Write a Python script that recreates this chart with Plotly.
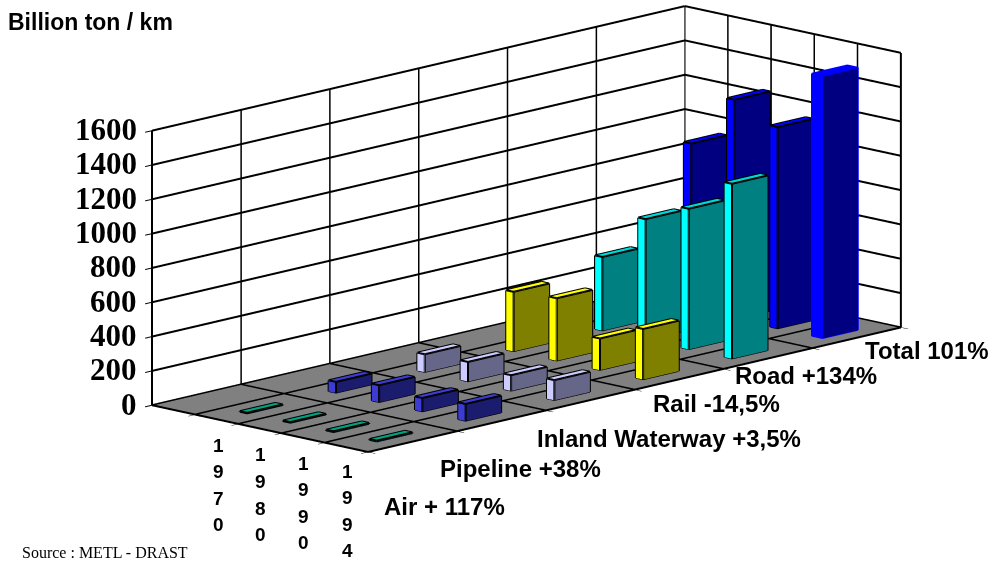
import math
import plotly.graph_objects as go

years = ["1970", "1980", "1990", "1994"]
series = ["Air", "Pipeline", "Inland Waterway", "Rail", "Road", "Total"]
air = [6, 6, 7, 7]
pipeline = [65, 100, 80, 100]
inland = [105, 115, 92, 118]
rail = [348, 365, 185, 295]
road = [430, 705, 820, 1020]
total = [970, 1280, 1175, 1530]
z_ticks = [0, 200, 400, 600, 800, 1000, 1200, 1400, 1600]
x_ticks = [0, 1, 2, 3, 4, 5]
y_ticks = [0, 1, 2, 3, 4, 5, 6]

values = [air, pipeline, inland, rail, road, total]
side_colors = ["#00a080", "#3c3cd2", "#ccccff", "#ffff00", "#00ffff", "#0000ff"]
front_colors = ["#008060", "#1c1c6e", "#666688", "#808000", "#008080", "#000080"]
top_colors = ["#00a080", "#3c3cd2", "#ccccff", "#ffff00", "#00d8d8", "#0000ff"]

BW = 0.17
BD = 0.2


def add_bar(mesh, edges, xc, yc, h, dx, dy, cs, cf, ct):
    x0, x1, y0, y1 = xc - dx, xc + dx, yc - dy, yc + dy
    base = len(mesh["x"])
    pts = [(x0, y0, 0), (x1, y0, 0), (x1, y1, 0), (x0, y1, 0),
           (x0, y0, h), (x1, y0, h), (x1, y1, h), (x0, y1, h)]
    for p in pts:
        mesh["x"].append(p[0]); mesh["y"].append(p[1]); mesh["z"].append(p[2])
    quads = [((0, 1, 5, 4), cs), ((1, 2, 6, 5), cf), ((4, 5, 6, 7), ct),
             ((2, 3, 7, 6), cf), ((3, 0, 4, 7), cs)]
    for (a, b, c, d), col in quads:
        for tri in ((a, b, c), (a, c, d)):
            mesh["i"].append(base + tri[0]); mesh["j"].append(base + tri[1]); mesh["k"].append(base + tri[2])
            mesh["c"].append(col)
    for a, b in [(0, 1), (1, 2), (4, 5), (5, 6), (6, 7), (7, 4), (0, 4), (1, 5), (2, 6), (3, 7), (2, 3), (3, 0)]:
        for v in (a, b):
            edges["x"].append(pts[v][0]); edges["y"].append(pts[v][1]); edges["z"].append(pts[v][2])
        edges["x"].append(None); edges["y"].append(None); edges["z"].append(None)


mesh = dict(x=[], y=[], z=[], i=[], j=[], k=[], c=[])
edges = dict(x=[], y=[], z=[])
edges_blue = dict(x=[], y=[], z=[])
for s, vals in enumerate(values):
    for t, v in enumerate(vals):
        hot = s == 5 and t == 3
        add_bar(mesh, edges_blue if hot else edges, t + 1.5, s + 0.5, v,
                0.125 if hot else BW / 2, BD,
                side_colors[s], front_colors[s], top_colors[s])

# wall and floor rules, drawn from the tick lists
grid = dict(x=[], y=[], z=[])


def seg(a, b):
    for p in (a, b):
        grid["x"].append(p[0]); grid["y"].append(p[1]); grid["z"].append(p[2])
    grid["x"].append(None); grid["y"].append(None); grid["z"].append(None)


xmax, ymax, zmax = x_ticks[-1], y_ticks[-1], z_ticks[-1]
for v in z_ticks:
    seg((0, 0, v), (0, ymax, v))
    seg((0, ymax, v), (xmax, ymax, v))
for y in y_ticks:
    seg((0, y, 0), (0, y, zmax))
    seg((0, y, 0), (xmax, y, 0))
for x in x_ticks:
    seg((x, ymax, 0), (x, ymax, zmax))
    seg((x, 0, 0), (x, ymax, 0))

fig = go.Figure()
fig.add_trace(go.Scatter3d(x=grid["x"], y=grid["y"], z=grid["z"], mode="lines",
                           line=dict(color="black", width=4), hoverinfo="skip", showlegend=False))
fig.add_trace(go.Mesh3d(x=mesh["x"], y=mesh["y"], z=mesh["z"], i=mesh["i"], j=mesh["j"], k=mesh["k"],
                        facecolor=mesh["c"], flatshading=True, hoverinfo="skip", showscale=False,
                        lighting=dict(ambient=1, diffuse=0, specular=0, fresnel=0, roughness=1)))
fig.add_trace(go.Scatter3d(x=edges["x"], y=edges["y"], z=edges["z"], mode="lines",
                           line=dict(color="black", width=4), hoverinfo="skip", showlegend=False))
fig.add_trace(go.Scatter3d(x=edges_blue["x"], y=edges_blue["y"], z=edges_blue["z"], mode="lines",
                           line=dict(color="#0000ff", width=3), hoverinfo="skip", showlegend=False))

# camera
TH, EL = math.radians(46.1), math.radians(13.0)
k = 281.7
R = 4.0
right = (math.sin(TH), math.cos(TH), 0)
up = (-math.sin(EL) * math.cos(TH), math.sin(EL) * math.sin(TH), math.cos(EL))
d = (math.cos(EL) * math.cos(TH), -math.cos(EL) * math.sin(TH), math.sin(EL))
sx, sy = -29 / k, -52.5 / k
c = [sx * right[i] + sy * up[i] for i in range(3)]
eye = [c[i] + R * d[i] for i in range(3)]

axis_common = dict(showgrid=False, showline=False,
                   zeroline=False, showspikes=False, title=dict(text=""), ticks="outside", ticklen=10,
                   tickcolor="black", tickwidth=2, showbackground=True, backgroundcolor="white",
                   showticklabels=False)
scene_notes = [dict(x=0, y=0, z=v, text=f"<b>{v}</b>", showarrow=False, xanchor="right", yanchor="middle",
                    xshift=-13, yshift=1,
                    font=dict(family="Liberation Serif", size=31, color="black")) for v in z_ticks]
fig.update_layout(
    width=995, height=563, margin=dict(l=0, r=0, t=0, b=0), paper_bgcolor="white", showlegend=False,
    font=dict(family="Liberation Sans"),
    scene=dict(
        domain=dict(x=[0, 1], y=[0, 1]),
        aspectmode="manual", aspectratio=dict(x=300 / k, y=769 / k, z=282 / k),
        camera=dict(projection=dict(type="orthographic"), up=dict(x=0, y=0, z=1),
                    center=dict(x=c[0], y=c[1], z=c[2]), eye=dict(x=eye[0], y=eye[1], z=eye[2])),
        xaxis=dict(range=[0, 5], tickmode="array", tickvals=x_ticks, **axis_common),
        yaxis=dict(range=[0, 6], tickmode="array", tickvals=y_ticks, **axis_common),
        zaxis=dict(**{**axis_common, "backgroundcolor": "#808080"}, range=[0, 1600], tickmode="array", tickvals=z_ticks),
        annotations=scene_notes,
    ),
)


def label(text, x, y, size=24, family="Liberation Sans", bold=True, anchor="left"):
    fig.add_annotation(xref="paper", yref="paper", x=x / 995, y=1 - y / 563, text=f"<b>{text}</b>" if bold else text,
                       showarrow=False, xanchor=anchor, yanchor="middle",
                       font=dict(family=family, size=size, color="black"))


label("Billion ton / km", 6, 22, 23)
label("Source : METL - DRAST", 20, 552, 16, "Liberation Serif", False)
label("Total 101%", 863, 350)
label("Road +134%", 733, 375)
label("Rail -14,5%", 651, 403)
label("Inland Waterway +3,5%", 535, 438)
label("Pipeline +38%", 438, 468)
label("Air + 117%", 382, 506)
for yr, px, py in zip(years, [218, 260, 303, 347], [445, 455, 463, 471]):
    for n, ch in enumerate(yr):
        label(ch, px, py + n * 26.5, 19, anchor="center")

fig.write_html("out.html", post_script="document.body.style.margin='0';", config=dict(displayModeBar=False))
